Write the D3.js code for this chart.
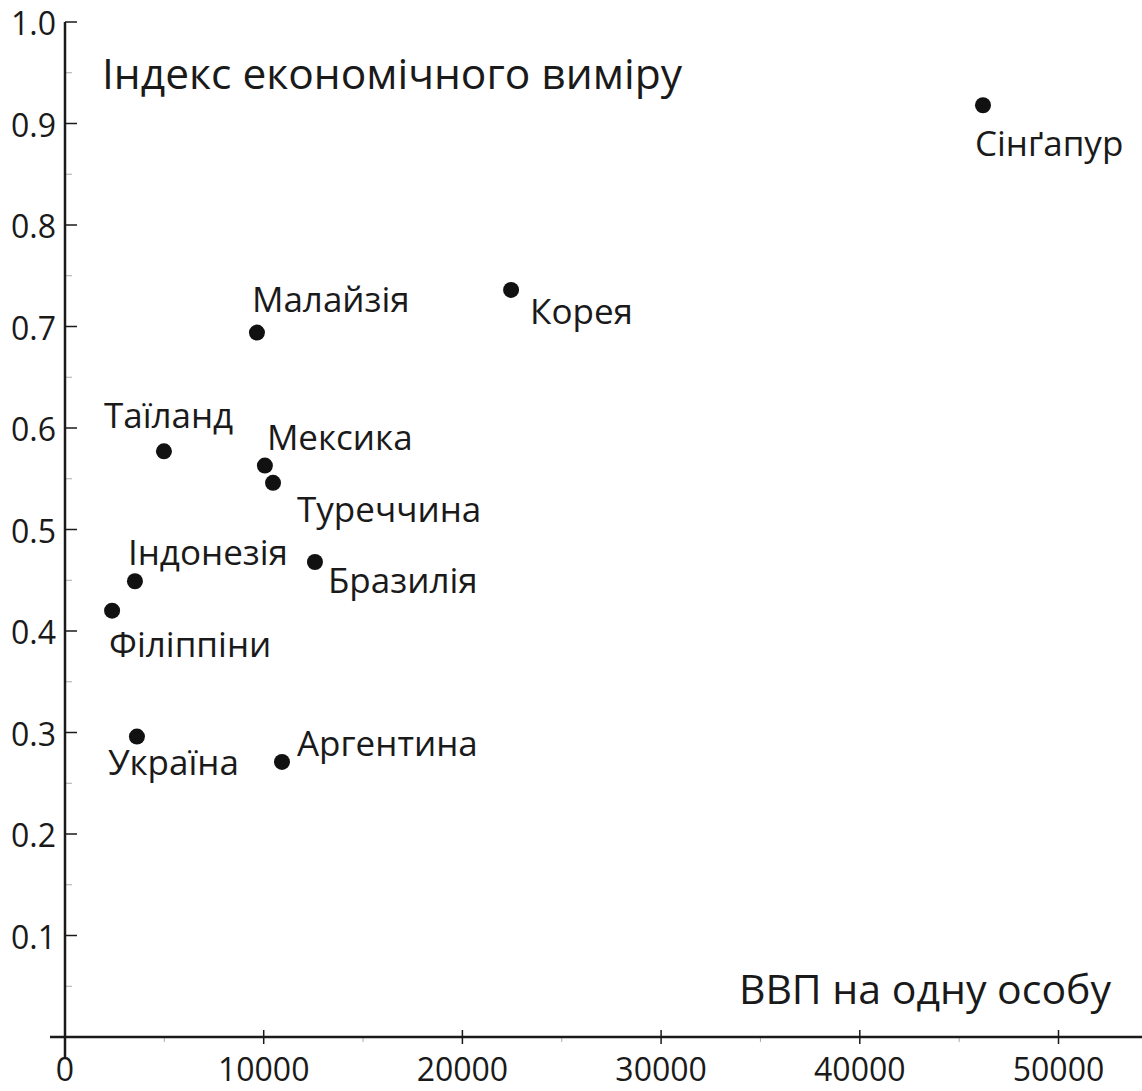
<!DOCTYPE html>
<html>
<head>
<meta charset="utf-8">
<script src="https://cdn.jsdelivr.net/npm/d3@7"></script>
<style>
  body { margin: 0; background: #fff; }
  svg text { font-family: "Open Sans", "Noto Sans", sans-serif; fill: #1a1a1a; }
</style>
</head>
<body>
<div class="chart"></div>
<script>
// data
const countries = ['Сінґапур','Корея','Малайзія','Таїланд','Мексика','Туреччина','Бразилія','Індонезія','Філіппіни','Україна','Аргентина'];
const gdp = [46200, 22450, 9660, 4980, 10060, 10470, 12580, 3520, 2370, 3620, 10920];
const index = [0.918, 0.736, 0.694, 0.577, 0.563, 0.546, 0.468, 0.449, 0.420, 0.296, 0.271];
const xTicks = [0, 10000, 20000, 30000, 40000, 50000];
const yTicks = [0.1, 0.2, 0.3, 0.4, 0.5, 0.6, 0.7, 0.8, 0.9, 1.0];

// label offsets from the dot (left x, baseline y)
const labelOffsets = [[-8,51],[19,34],[-5,-21],[-60,-23],[2,-16],[24,39],[13,31],[-7,-16],[-3,46],[-29,38],[15,-6]];

const width = 1142;
const height = 1091;
const svg = d3.select('.chart')
    .append('svg')
    .attr('width', width)
    .attr('height', height)

const x = d3.scaleLinear().domain([0, 10000]).range([65, 263.7]);
const y = d3.scaleLinear().domain([0, 1]).range([1037, 22]);

//minor ticks
const minorX = d3.range(5000, 55000, 10000);
const minorY = d3.range(0.05, 1, 0.1);
svg.selectAll('.mx').data(minorX).enter().append('line')
    .attr('x1', d=>x(d)).attr('x2', d=>x(d))
    .attr('y1', y(0)).attr('y2', y(0)+5)
    .attr('stroke', '#aaa').attr('stroke-width', 1);
svg.selectAll('.my').data(minorY).enter().append('line')
    .attr('x1', x(0)).attr('x2', x(0)+7)
    .attr('y1', d=>y(d)).attr('y2', d=>y(d))
    .attr('stroke', '#aaa').attr('stroke-width', 1);

//axis lines
svg.append('line')
    .attr('x1', 50).attr('x2', width)
    .attr('y1', y(0)).attr('y2', y(0))
    .attr('stroke', '#1a1a1a').attr('stroke-width', 2.5);
svg.append('line')
    .attr('x1', x(0)).attr('x2', x(0))
    .attr('y1', y(1)).attr('y2', y(0)+20)
    .attr('stroke', '#1a1a1a').attr('stroke-width', 2.5);

//major ticks
svg.selectAll('.tx').data(xTicks.slice(1)).enter().append('line')
    .attr('x1', d=>x(d)).attr('x2', d=>x(d))
    .attr('y1', y(0)-7).attr('y2', y(0)+7)
    .attr('stroke', '#1a1a1a').attr('stroke-width', 1.5);
svg.selectAll('.ty').data(yTicks).enter().append('line')
    .attr('x1', x(0)).attr('x2', x(0)+12)
    .attr('y1', d=>y(d)).attr('y2', d=>y(d))
    .attr('stroke', '#1a1a1a').attr('stroke-width', 1.5);

//tick labels
svg.selectAll('.xl').data(xTicks).enter().append('text')
    .text(d=>d)
    .attr('x', d=>x(d))
    .attr('y', 1081)
    .attr('text-anchor', 'middle')
    .attr('font-size', 32);
svg.selectAll('.yl').data(yTicks).enter().append('text')
    .text(d=>d.toFixed(1))
    .attr('x', 56)
    .attr('y', d=>y(d)+13)
    .attr('text-anchor', 'end')
    .attr('font-size', 32);

//axis titles
svg.append('text')
    .text('Індекс економічного виміру')
    .attr('x', 102).attr('y', 89)
    .attr('font-size', 42.5);
svg.append('text')
    .text('ВВП на одну особу')
    .attr('x', 1111).attr('y', 1004)
    .attr('text-anchor', 'end')
    .attr('font-size', 41);

//dots
svg.selectAll('circle')
    .data(countries)
    .enter()
    .append('circle')
    .attr('cx', (d,i)=>x(gdp[i]))
    .attr('cy', (d,i)=>y(index[i]))
    .attr('r', 8)
    .attr('fill', '#111');

//country labels
svg.selectAll('.cl')
    .data(countries)
    .enter()
    .append('text')
    .text(d=>d)
    .attr('x', (d,i)=>x(gdp[i])+labelOffsets[i][0])
    .attr('y', (d,i)=>y(index[i])+labelOffsets[i][1])
    .attr('font-size', 35);
</script>
</body>
</html>
